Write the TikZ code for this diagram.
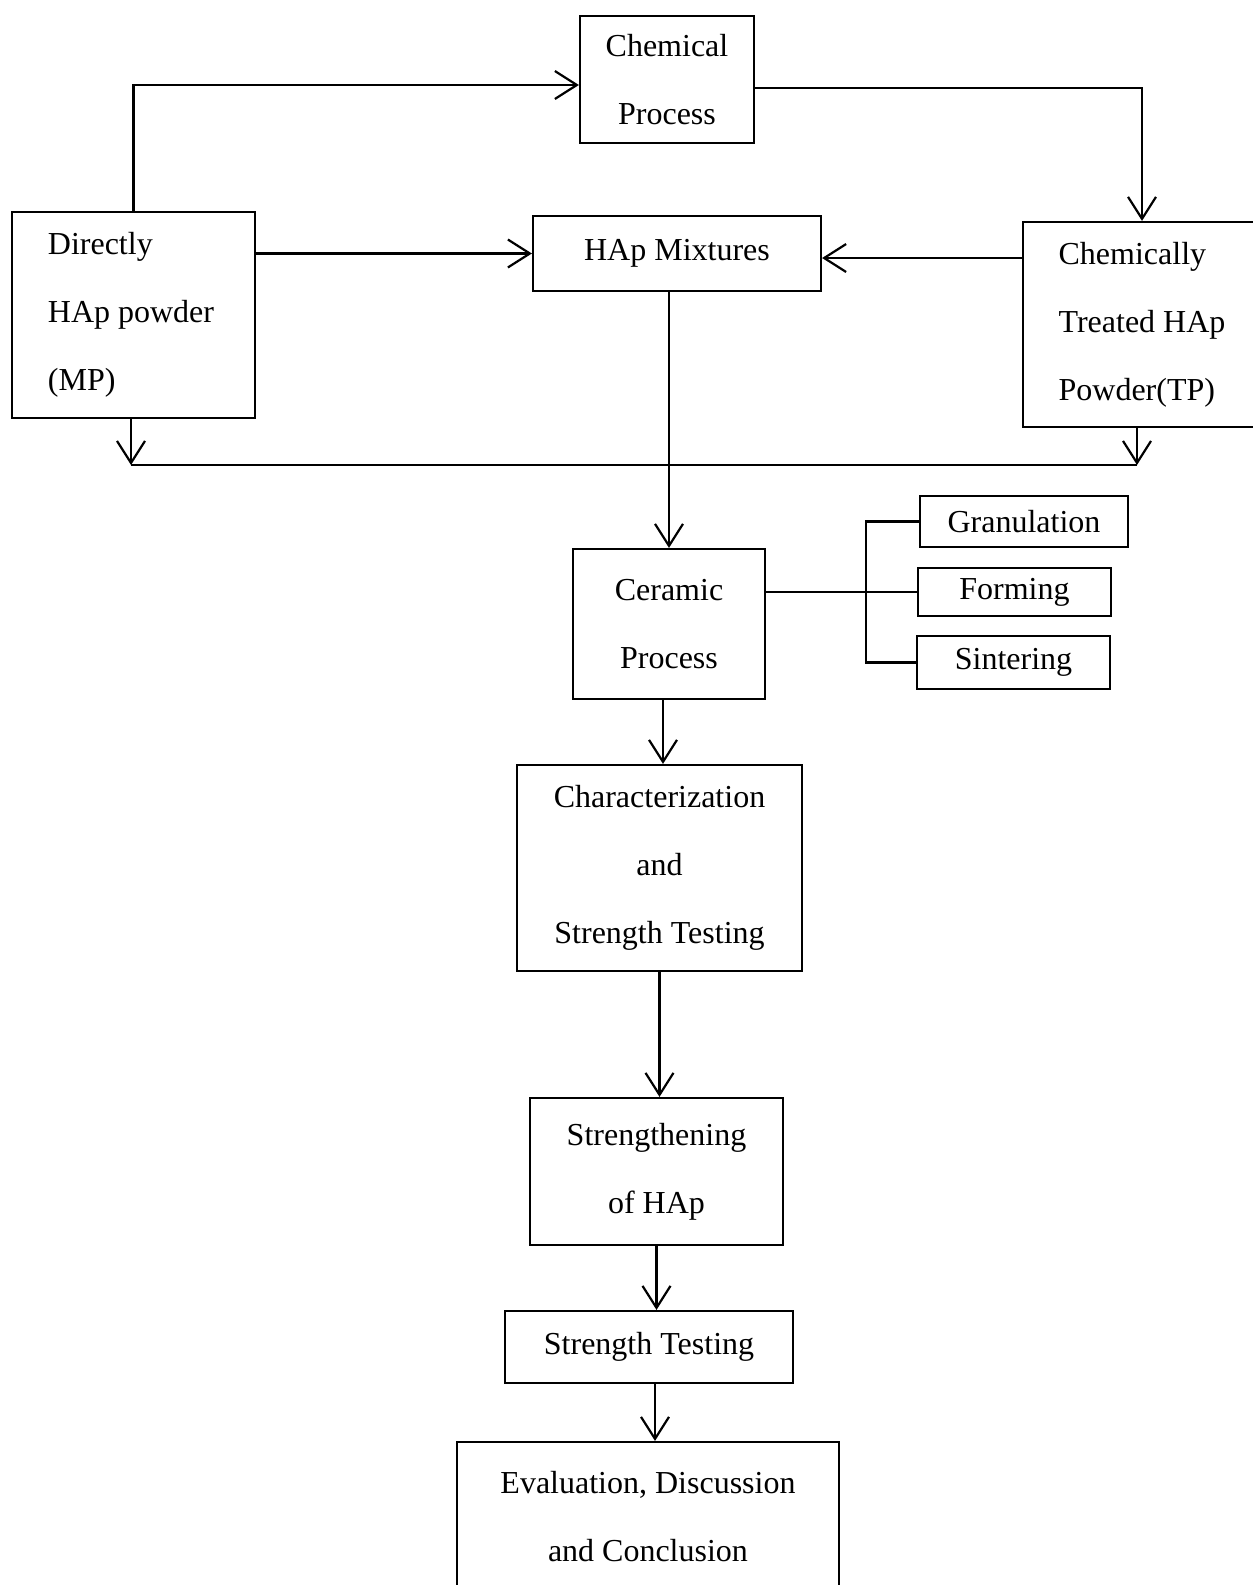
\documentclass[tikz,border=0pt]{standalone}
\usepackage{fontspec}
\setmainfont{Liberation Serif}
\usetikzlibrary{arrows.meta}
\begin{document}
\begin{tikzpicture}[x=0.5pt,y=-0.5pt,
  box/.style={draw,line width=1.1pt,inner sep=0pt,align=center,font=\fontsize{16}{34}\selectfont},
  conn/.style={line width=1.1pt},
  arr/.style={conn,-{Straight Barb[length=11pt,width=14pt,line width=1.1pt]}}]
\fill[white] (0,0) rectangle (1253,1585);
\useasboundingbox (0,0) rectangle (1253,1585);
\node[box,minimum width=121.5pt,minimum height=103pt] (mp) at (133.5,315) {};
\node[inner sep=0pt,align=left,font=\fontsize{16}{34}\selectfont] (mpt) at (131,315) {Directly\\HAp powder\\(MP)};
\node[box,minimum width=87pt,minimum height=63.5pt] (chem) at (667,79.5) {Chemical\\Process};
\node[box,minimum width=144pt,minimum height=37.5pt] (mix) at (677,253.5) {HAp Mixtures};
\node[box,minimum width=119pt,minimum height=102.5pt,align=left] (tp) at (1142,324.5) {Chemically\\Treated HAp\\Powder(TP)};
\node[box,minimum width=96pt,minimum height=75pt] (cer) at (669,624) {Ceramic\\Process};
\node[box,minimum width=104pt,minimum height=25.5pt] (gran) at (1024,521.5) {Granulation};
\node[box,minimum width=96.5pt,minimum height=24pt] (form) at (1014.5,592) {Forming};
\node[box,minimum width=96.5pt,minimum height=26.5pt] (sint) at (1013.5,662.5) {Sintering};
\node[box,minimum width=142.5pt,minimum height=103pt] (char) at (659.5,868) {Characterization\\and\\Strength Testing};
\node[box,minimum width=126.5pt,minimum height=73.5pt] (stren) at (656.5,1171.5) {Strengthening\\of HAp};
\node[box,minimum width=144pt,minimum height=36pt] (st) at (649,1347) {Strength Testing};
\node[box,minimum width=191pt,minimum height=75pt] (eval) at (648,1517) {Evaluation, Discussion\\and Conclusion};
\coordinate (jl) at (131,465);
\coordinate (jr) at (1137,465);
\coordinate (bx) at (866,0);
\coordinate (top1) at (0,85);
\coordinate (top2) at (0,88);
\coordinate (mid2) at (0,258);
\draw[arr] (mp.north) |- (chem.west |- top1);
\draw[arr] (chem.east |- top2) -| (tp.north);
\draw[arr] (mp.east |- mix.west) -- (mix.west);
\draw[arr] (tp.west |- mid2) -- (mix.east |- mid2);
\draw[arr] (mix.south -| cer.north) -- (cer.north);
\draw[arr] (mp.south -| jl) -- (jl);
\draw[arr] (tp.south -| jr) -- (jr);
\draw[conn] (jl) -- (jr);
\draw[conn] (cer.east |- form.west) -- (form.west);
\draw[conn] (gran.west) -- (gran.west -| bx) -- (sint.west -| bx) -- (sint.west);
\draw[arr] ([xshift=-3pt]cer.south) -- ([xshift=-3pt]cer.south |- char.north);
\draw[arr] (char.south) -- (char.south |- stren.north);
\draw[arr] (stren.south) -- (stren.south |- st.north);
\draw[arr] ([xshift=3pt]st.south) -- ([xshift=3pt]st.south |- eval.north);
\end{tikzpicture}
\end{document}
